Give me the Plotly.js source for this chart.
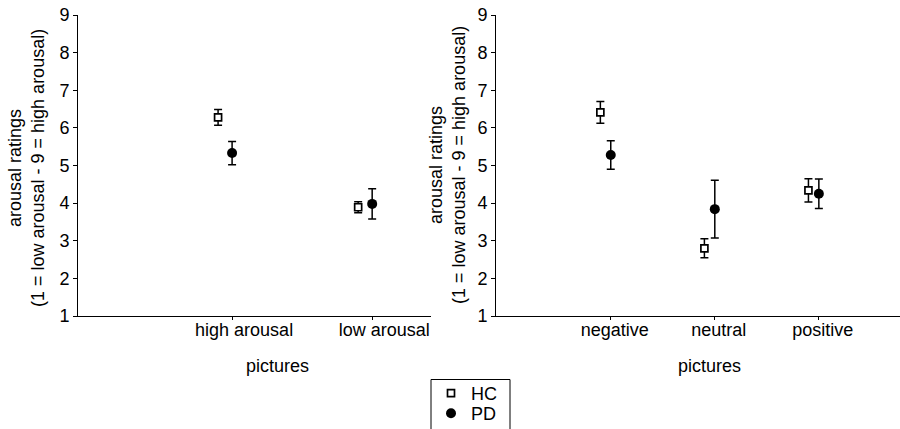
<!DOCTYPE html>
<html>
<head>
<meta charset="utf-8">
<script src="https://cdn.plot.ly/plotly-3.0.1.min.js"></script>
<style>html,body{margin:0;padding:0;background:#fff;}#chart{width:900px;height:429px;}</style>
</head>
<body>
<div id="chart"></div>
<script>
// Left panel: arousal categories
const arousalCategories = ["high arousal", "low arousal"];
const hcArousalMean = [6.28, 3.89];
const hcArousalErr = [0.21, 0.145];
const pdArousalMean = [5.33, 3.98];
const pdArousalErr = [0.31, 0.40];

// Right panel: valence categories
const valenceCategories = ["negative", "neutral", "positive"];
const hcValenceMean = [6.41, 2.80, 4.34];
const hcValenceErr = [0.29, 0.25, 0.31];
const pdValenceMean = [5.28, 3.84, 4.25];
const pdValenceErr = [0.38, 0.77, 0.39];

const yTickVals = [1, 2, 3, 4, 5, 6, 7, 8, 9];
const groupNames = ["HC", "PD"];
const xTitle = "pictures";
const yTitleLines = ["arousal ratings", "(1 = low arousal - 9 = high arousal)"];

const FONT = "Liberation Sans, Arial, Helvetica, sans-serif";
const HC_SHIFT = -0.1;

function positions(cats, shift) { return cats.map((c, i) => i + 1 + shift); }

const hcMarker = {symbol: "square", size: 7, color: "#fff", line: {color: "#000", width: 1.7}};
const pdMarker = {symbol: "circle", size: 10, color: "#000", line: {color: "#000", width: 0}};
function errBar(arr) { return {type: "data", array: arr, visible: true, color: "#000", thickness: 1.5, width: 4}; }

const traces = [
  {x: positions(arousalCategories, HC_SHIFT), y: hcArousalMean, error_y: errBar(hcArousalErr),
   mode: "markers", type: "scatter", name: groupNames[0], legend: "legend", legendgroup: "hc", marker: hcMarker, xaxis: "x", yaxis: "y"},
  {x: positions(arousalCategories, 0), y: pdArousalMean, error_y: errBar(pdArousalErr),
   mode: "markers", type: "scatter", name: groupNames[1], legend: "legend2", legendgroup: "pd", marker: pdMarker, xaxis: "x", yaxis: "y"},
  {x: positions(valenceCategories, HC_SHIFT), y: hcValenceMean, error_y: errBar(hcValenceErr),
   mode: "markers", type: "scatter", name: groupNames[0], legendgroup: "hc", showlegend: false, marker: hcMarker, xaxis: "x2", yaxis: "y2"},
  {x: positions(valenceCategories, 0), y: pdValenceMean, error_y: errBar(pdValenceErr),
   mode: "markers", type: "scatter", name: groupNames[1], legendgroup: "pd", showlegend: false, marker: pdMarker, xaxis: "x2", yaxis: "y2"}
];

const W = 900, H = 429;
const yDomain = [1 - 316 / H, 1 - 15 / H];
const xAxisCommon = {
  showgrid: false, zeroline: false, showline: true, linecolor: "#000", linewidth: 1,
  ticks: "outside", ticklen: 4, tickcolor: "#000", tickwidth: 1,
  tickfont: {family: FONT, size: 18, color: "#000"}, fixedrange: true
};
const yAxisCommon = Object.assign({}, xAxisCommon, {range: [1, 9], tickvals: yTickVals, domain: yDomain});
const legendCommon = {x: 431 / W, xanchor: "left", yanchor: "top", borderwidth: 0,
  bgcolor: "rgba(0,0,0,0)", font: {family: FONT, size: 18, color: "#000"}};

const layout = {
  width: W, height: H,
  margin: {l: 0, r: 0, t: 0, b: 0, autoexpand: false},
  paper_bgcolor: "#fff", plot_bgcolor: "#fff",
  font: {family: FONT, size: 18, color: "#000"},
  showlegend: true,
  legend: Object.assign({}, legendCommon, {y: 1 - 375 / H}),
  legend2: Object.assign({}, legendCommon, {y: 1 - 395 / H}),
  shapes: [
    {type: "rect", xref: "paper", yref: "paper", x0: 431 / W, x1: 510 / W, y0: -0.05, y1: 1 - 379.5 / H,
     line: {color: "#000", width: 1}, fillcolor: "rgba(0,0,0,0)", layer: "below"}
  ],
  xaxis: Object.assign({}, xAxisCommon, {domain: [78 / W, 431 / W], range: [-0.1, 2.42], anchor: "y",
           ticklen: 3, ticklabelstandoff: -6,
           tickvals: positions(arousalCategories, 0), ticktext: arousalCategories, ticklabelshift: 12}),
  yaxis: Object.assign({}, yAxisCommon, {anchor: "x"}),
  xaxis2: Object.assign({}, xAxisCommon, {domain: [496 / W, 1], range: [-0.103, 3.78], anchor: "y2",
           ticklen: 3, ticklabelstandoff: -6,
           tickvals: positions(valenceCategories, 0), ticktext: valenceCategories, ticklabelshift: 4}),
  yaxis2: Object.assign({}, yAxisCommon, {anchor: "x2"}),
  annotations: [
    {xref: "paper", yref: "paper", x: 277 / W, y: 1 - 366 / H, xanchor: "center", yanchor: "middle",
     text: xTitle, showarrow: false, font: {family: FONT, size: 18, color: "#000"}},
    {xref: "paper", yref: "paper", x: 709 / W, y: 1 - 366 / H, xanchor: "center", yanchor: "middle",
     text: xTitle, showarrow: false, font: {family: FONT, size: 18, color: "#000"}},
    {xref: "paper", yref: "paper", x: 26 / W, y: 1 - 168 / H, xanchor: "center", yanchor: "middle",
     text: yTitleLines.join("<br>"), textangle: -90, showarrow: false, font: {family: FONT, size: 18, color: "#000"}},
    {xref: "paper", yref: "paper", x: 448 / W, y: 1 - 165 / H, xanchor: "center", yanchor: "middle",
     text: yTitleLines.join("<br>"), textangle: -90, showarrow: false, font: {family: FONT, size: 18, color: "#000"}}
  ]
};

Plotly.newPlot("chart", traces, layout, {displayModeBar: false, staticPlot: true});
</script>
</body>
</html>
